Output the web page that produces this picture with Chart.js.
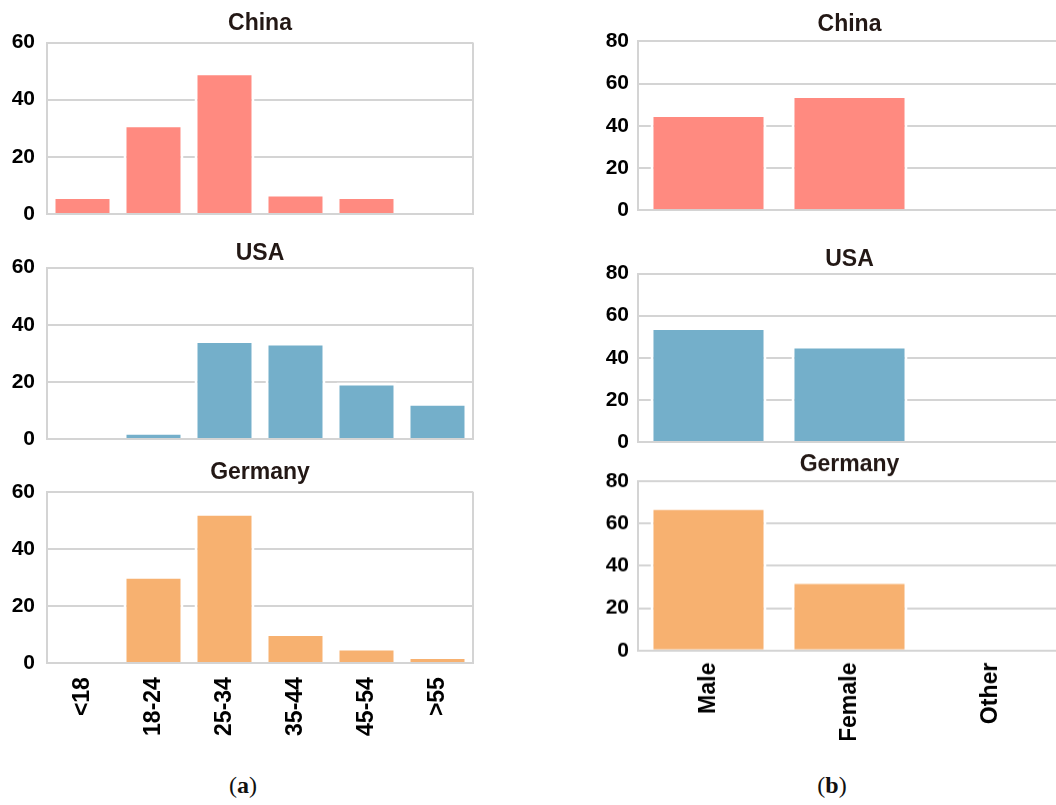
<!DOCTYPE html>
<html>
<head>
<meta charset="utf-8">
<script src="https://cdn.jsdelivr.net/npm/chart.js@4.4.0/dist/chart.umd.min.js"></script>
<style>
  html, body { margin: 0; padding: 0; background: #fff; }
  body { position: relative; width: 1056px; height: 805px; overflow: hidden; }
  .box { position: absolute; }
  .cap { position: absolute; top: 772px; font-family: 'Liberation Serif', 'DejaVu Serif', serif; font-size: 24px; color: #111; transform: translateX(-50%); }
</style>
</head>
<body>
<div class="box" id="b1"><canvas id="c1"></canvas></div>
<div class="box" id="b2"><canvas id="c2"></canvas></div>
<div class="box" id="b3"><canvas id="c3"></canvas></div>
<div class="box" id="b4"><canvas id="c4"></canvas></div>
<div class="box" id="b5"><canvas id="c5"></canvas></div>
<div class="box" id="b6"><canvas id="c6"></canvas></div>
<div class="cap" style="left:243px">(<b>a</b>)</div>
<div class="cap" style="left:832px">(<b>b</b>)</div>
<script>
  // categories
  const ageGroups = ['<18', '18-24', '25-34', '35-44', '45-54', '>55'];
  const genders = ['Male', 'Female', 'Other'];

  // (a) age distribution, %
  const chinaAge = [6.3, 31.4, 49.6, 7.2, 6.3, 0];
  const usaAge = [0, 2.6, 34.7, 33.8, 19.8, 12.7];
  const germanyAge = [0, 30.6, 52.7, 10.5, 5.5, 2.5];

  // (b) gender distribution, %
  const chinaGender = [45.6, 54.6, 0];
  const usaGender = [54.6, 45.8, 0];
  const germanyGender = [67.7, 32.8, 0];

  // y tick labels
  const ageTicks = [0, 20, 40, 60];
  const genderTicks = [0, 20, 40, 60, 80];

  const colors = { China: '#ff8a80', USA: '#74afca', Germany: '#f7b170' };
  const gridColor = '#d4d4d4';
  const fontFamily = "'Liberation Sans', Arial, sans-serif";

  function makeChart(n, title, labels, values, ticks, pos) {
    const titleSize = 23;
    const padTop = 10;
    const padRight = 8;
    const textH = titleSize * 1.2;
    const padBottom = Math.max(pos.plotTop - pos.titleY - textH / 2, 0);
    const left = pos.plotLeft - pos.yw;
    const top = pos.titleY - textH / 2 - padTop;
    const width = pos.plotRight - left + padRight;
    const height = pos.plotBottom - top + pos.xh;

    const box = document.getElementById('b' + n);
    box.style.left = left + 'px';
    box.style.top = top + 'px';
    box.style.width = width + 'px';
    box.style.height = height + 'px';

    new Chart(document.getElementById('c' + n), {
      type: 'bar',
      data: {
        labels: labels,
        datasets: [{
          data: values,
          backgroundColor: colors[title],
          borderColor: '#fff',
          borderWidth: 3,
          barPercentage: pos.barPct,
          categoryPercentage: 1
        }]
      },
      options: {
        responsive: true,
        maintainAspectRatio: false,
        animation: false,
        layout: { padding: { right: padRight } },
        plugins: {
          legend: { display: false },
          tooltip: { enabled: false },
          title: {
            display: true,
            text: title,
            fullSize: false,
            color: '#231815',
            font: { family: fontFamily, size: titleSize, weight: 'bold' },
            padding: { top: padTop, bottom: padBottom }
          }
        },
        scales: {
          x: {
            afterFit: (s) => { s.height = pos.xh; },
            grid: {
              drawTicks: false,
              lineWidth: 2,
              // only the right frame edge, no lines between categories
              color: (c) => c.type === 'tick' ? 'rgba(0,0,0,0)' : gridColor
            },
            border: { color: gridColor, width: 2 },
            ticks: {
              display: pos.showX,
              color: '#000',
              padding: pos.xPad,
              minRotation: 90,
              maxRotation: 90,
              font: { family: fontFamily, size: 23, weight: 'bold' }
            }
          },
          y: {
            min: ticks[0],
            max: ticks[ticks.length - 1],
            afterFit: (s) => { s.width = pos.yw; },
            grid: { color: gridColor, lineWidth: 2, drawTicks: false },
            border: { color: gridColor, width: 2 },
            ticks: {
              stepSize: ticks[1] - ticks[0],
              color: '#000',
              padding: pos.yPad,
              font: { family: fontFamily, size: 21, weight: 'bold' }
            }
          }
        }
      }
    });
  }

  const leftCol = { plotLeft: 47, plotRight: 473, yw: 47, yPad: 12, barPct: 0.845, xPad: 14 };
  const rightCol = { plotLeft: 637.5, plotRight: 1060.5, yw: 60, yPad: 9, barPct: 0.823, xPad: 12 };

  makeChart(1, 'China', ageGroups, chinaAge, ageTicks,
    Object.assign({}, leftCol, { titleY: 24, plotTop: 42.7, plotBottom: 214.3, xh: 27, showX: false }));
  makeChart(2, 'USA', ageGroups, usaAge, ageTicks,
    Object.assign({}, leftCol, { titleY: 254, plotTop: 267.7, plotBottom: 439.3, xh: 27, showX: false }));
  makeChart(3, 'Germany', ageGroups, germanyAge, ageTicks,
    Object.assign({}, leftCol, { titleY: 473, plotTop: 492, plotBottom: 663.3, xh: 80, showX: true }));

  makeChart(4, 'China', genders, chinaGender, genderTicks,
    Object.assign({}, rightCol, { titleY: 24.5, plotTop: 41, plotBottom: 210, xh: 27, showX: false }));
  makeChart(5, 'USA', genders, usaGender, genderTicks,
    Object.assign({}, rightCol, { titleY: 259.5, plotTop: 272.7, plotBottom: 441.7, xh: 27, showX: false }));
  makeChart(6, 'Germany', genders, germanyGender, genderTicks,
    Object.assign({}, rightCol, { titleY: 465, plotTop: 481, plotBottom: 650, xh: 90, showX: true }));
</script>
</body>
</html>
